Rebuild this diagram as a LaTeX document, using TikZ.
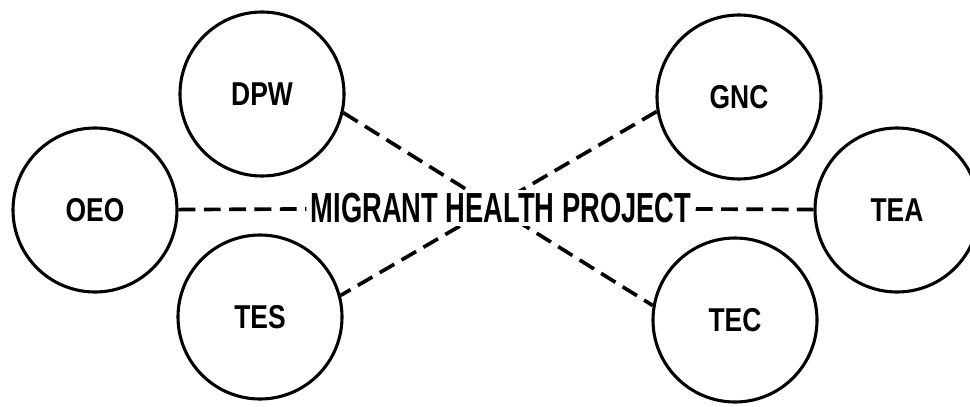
\documentclass[tikz,border=0pt]{standalone}
\usepackage{fontspec}
\setsansfont{Liberation Sans}
\usepackage{graphicx}
\usetikzlibrary{backgrounds}

\newcommand{\narrowtext}[2]{\scalebox{#1}[1]{#2}}

\begin{document}
\begin{tikzpicture}[
    org/.style={circle, draw, line width=2.2pt, minimum size=4.1cm, inner sep=0pt, font=\sffamily\bfseries\fontsize{23.5}{26}\selectfont},
    project/.style={fill=white, inner xsep=3pt, inner ysep=2pt, font=\sffamily\bfseries\fontsize{29.9}{32}\selectfont},
    link/.style={line width=2.6pt, dash pattern=on 12pt off 6pt}
]
    \useasboundingbox (0,0) rectangle (24.25,10.15);

    \node[project] (project) at (12.525,4.95) {\narrowtext{0.65}{MIGRANT HEALTH PROJECT}};
    \node[org] (oeo) at (2.375,4.9) {\narrowtext{0.8}{OEO}};
    \node[org] (dpw) at (6.55,7.8) {\narrowtext{0.8}{DPW}};
    \node[org] (tes) at (6.5,2.225) {\narrowtext{0.8}{TES}};
    \node[org] (gnc) at (18.475,7.725) {\narrowtext{0.8}{GNC}};
    \node[org] (tea) at (22.425,4.9) {\narrowtext{0.8}{TEA}};
    \node[org] (tec) at (18.375,2.15) {\narrowtext{0.8}{TEC}};

    \begin{scope}[on background layer]
        \draw[link] (oeo) -- (project);
        \draw[link] (project) -- (tea);
        \draw[link] (dpw.-13) -- (tec.170);
        \draw[link] (gnc.190) -- (tes.15);
    \end{scope}
\end{tikzpicture}
\end{document}
